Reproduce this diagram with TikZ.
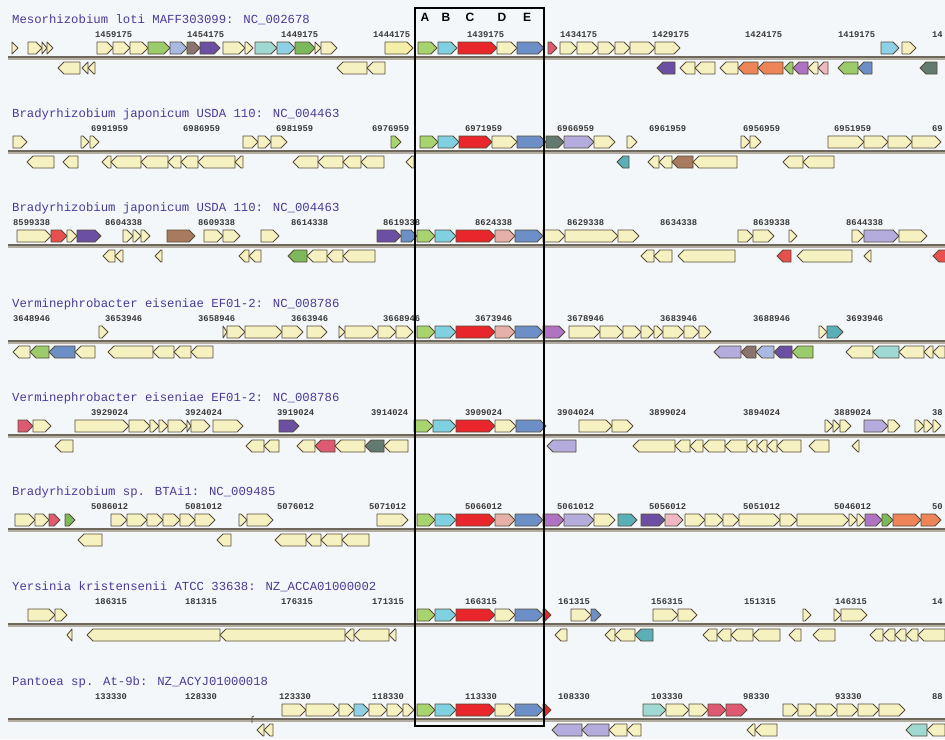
\documentclass[tikz,border=0pt]{standalone}
\usepackage{fontspec}
\newfontfamily\titlef{Liberation Mono}
\newfontfamily\numf{Liberation Mono}
\newfontfamily\letf{Liberation Sans}
\definecolor{bgc}{HTML}{F4F7FA}
\definecolor{geneline}{HTML}{574C38}
\definecolor{axisdark}{HTML}{6E685C}
\definecolor{axislight}{HTML}{B3ADA2}
\definecolor{ttlcol}{HTML}{4A3A98}
\definecolor{numcol}{HTML}{3A3A3A}
\definecolor{cr}{HTML}{F6F1C1}
\definecolor{cry}{HTML}{F3EFA8}
\definecolor{gA}{HTML}{A8D46F}
\definecolor{gB}{HTML}{7FD0E0}
\definecolor{gC}{HTML}{E8262B}
\definecolor{gD}{HTML}{E6B0A8}
\definecolor{gE}{HTML}{6B8FC6}
\definecolor{lav}{HTML}{B3ACDC}
\definecolor{purp}{HTML}{6B4FA3}
\definecolor{brn}{HTML}{A97B5E}
\definecolor{lteal}{HTML}{9FD9D2}
\definecolor{dteal}{HTML}{5BAFB8}
\definecolor{orn}{HTML}{EE8558}
\definecolor{dgray}{HTML}{627A72}
\definecolor{rose}{HTML}{DE5A72}
\definecolor{lilac}{HTML}{B073C3}
\definecolor{peri}{HTML}{A9B9E2}
\definecolor{gbrn}{HTML}{8A7470}
\definecolor{lgrn}{HTML}{9BCB6B}
\definecolor{mgrn}{HTML}{7DB85A}
\definecolor{lblue}{HTML}{90D0E6}
\definecolor{pinkl}{HTML}{F0B8C0}
\definecolor{redm}{HTML}{E85050}
\tikzset{
  gene/.style={draw=geneline, line width=0.9pt, line join=round},
  axisdk/.style={draw=axisdark, line width=1.6pt},
  axislt/.style={draw=axislight, line width=2pt},
  ttl/.style={anchor=west, text=ttlcol, font=\titlef\fontsize{12.3}{13}\selectfont, inner sep=0pt},
  num/.style={anchor=west, text=numcol, font=\numf\bfseries\fontsize{8.8}{9}\selectfont, inner sep=0pt},
  letlab/.style={font=\letf\bfseries\fontsize{12}{12}\selectfont, inner sep=0pt},
  boxframe/.style={draw=black, line width=1.1pt}
}
\newcommand\genF[3]{\pgfmathsetmacro\hl{min(6,#2-#1)}%
  \filldraw[gene,fill=#3] (#1,{\ry-16}) -- ({#2-\hl},{\ry-16}) -- (#2,{\ry-10}) -- ({#2-\hl},{\ry-4}) -- (#1,{\ry-4}) -- cycle;}
\newcommand\genR[3]{\pgfmathsetmacro\hl{min(6,#2-#1)}%
  \filldraw[gene,fill=#3] (#2,{\ry+4}) -- ({#1+\hl},{\ry+4}) -- (#1,{\ry+10}) -- ({#1+\hl},{\ry+16}) -- (#2,{\ry+16}) -- cycle;}
\newcommand\rowaxis{\draw[axislt] (8,{\ry+0.8}) -- (945,{\ry+0.8});\draw[axisdk] (8,{\ry-0.8}) -- (945,{\ry-0.8});}
\begin{document}
\begin{tikzpicture}[x=1pt,y=-1pt]
\fill[bgc] (0,0) rectangle (945,739);
\clip (0,0) rectangle (945,739);
% ---------- Row 1
\def\ry{58}
\rowaxis
\node[ttl] (t1) at (12,{\ry-38}) {Mesorhizobium loti MAFF303099: NC\_002678};
\foreach \x/\t [count=\i] in {95/1459175,187/1454175,281/1449175,373/1444175,467/1439175,560/1434175,652/1429175,745/1424175,838/1419175,932/14}
  \node[num] (r1n\i) at (\x,{\ry-23}) {\t};
\genF{12}{18}{cr}\genF{28}{42}{cr}\genF{42}{47}{cr}\genF{47}{53}{cr}
\genF{97}{113}{cr}\genF{113}{130}{cr}\genF{130}{148}{cr}\genF{148}{170}{lgrn}\genF{170}{187}{peri}\genF{187}{200}{gbrn}\genF{200}{220}{purp}
\genF{223}{245}{cr}\genF{245}{253}{cr}\genF{255}{277}{lteal}\genF{277}{295}{lblue}\genF{295}{315}{mgrn}\genF{315}{321}{cr}\genF{321}{337}{cr}
\genF{385}{413}{cry}\genF{418}{437}{gA}\genF{438}{457}{gB}\genF{458}{497}{gC}\genF{497}{517}{cr}\genF{517}{544}{gE}\genF{548}{557}{rose}
\genF{560}{577}{cr}\genF{577}{598}{cr}\genF{598}{615}{cr}\genF{615}{630}{cr}\genF{630}{655}{cr}\genF{655}{680}{cr}
\genF{881}{899}{lblue}\genF{902}{916}{cr}
\genR{58}{80}{cr}\genR{82}{88}{cr}\genR{88}{95}{cr}
\genR{337}{367}{cr}\genR{367}{385}{cr}
\genR{657}{675}{purp}\genR{680}{695}{cr}\genR{695}{715}{cr}\genR{720}{738}{cr}\genR{738}{758}{orn}\genR{758}{783}{orn}\genR{784}{793}{lgrn}\genR{793}{808}{lilac}\genR{808}{818}{cr}\genR{818}{828}{pinkl}
\genR{838}{858}{lgrn}\genR{858}{872}{gE}\genR{920}{937}{dgray}
% ---------- Row 2
\def\ry{152}
\rowaxis
\node[ttl] (t2) at (12,{\ry-38}) {Bradyrhizobium japonicum USDA 110: NC\_004463};
\foreach \x/\t [count=\i] in {91/6991959,183/6986959,276/6981959,372/6976959,465/6971959,557/6966959,649/6961959,743/6956959,834/6951959,932/69}
  \node[num] (r2n\i) at (\x,{\ry-23}) {\t};
\genF{13}{27}{cr}\genF{81}{89}{cr}\genF{90}{99}{cr}
\genF{243}{258}{cr}\genF{258}{271}{cr}\genF{271}{287}{cr}\genF{391}{401}{gA}
\genF{420}{438}{gA}\genF{438}{459}{gB}\genF{459}{492}{gC}\genF{492}{517}{cr}\genF{517}{546}{gE}\genF{546}{564}{dgray}\genF{564}{594}{lav}\genF{594}{615}{cr}
\genF{627}{637}{cr}\genF{741}{750}{cr}\genF{750}{761}{cr}
\genF{828}{864}{cr}\genF{864}{888}{cr}\genF{888}{912}{cr}\genF{912}{941}{cr}
\genR{27}{54}{cr}\genR{63}{78}{cr}\genR{102}{111}{cr}\genR{111}{141}{cr}\genR{141}{168}{cr}\genR{168}{181}{cr}\genR{181}{198}{cr}\genR{198}{235}{cr}\genR{235}{243}{cr}
\genR{293}{318}{cr}\genR{318}{343}{cr}\genR{343}{361}{cr}\genR{361}{384}{cr}\genR{406}{414}{cr}
\genR{617}{629}{dteal}\genR{648}{659}{cr}\genR{659}{672}{cr}\genR{672}{693}{brn}\genR{693}{737}{cr}
\genR{783}{803}{cr}\genR{803}{834}{cr}
% ---------- Row 3
\def\ry{246}
\rowaxis
\node[ttl] (t3) at (12,{\ry-38}) {Bradyrhizobium japonicum USDA 110: NC\_004463};
\foreach \x/\t [count=\i] in {13/8599338,105/8604338,198/8609338,291/8614338,383/8619338,475/8624338,567/8629338,660/8634338,753/8639338,846/8644338}
  \node[num] (r3n\i) at (\x,{\ry-23}) {\t};
\genF{17}{51}{cr}\genF{51}{67}{redm}\genF{67}{77}{cr}\genF{77}{101}{purp}
\genF{123}{133}{cr}\genF{133}{141}{cr}\genF{141}{150}{cr}\genF{167}{195}{brn}\genF{204}{223}{cr}\genF{223}{240}{cr}\genF{261}{279}{cr}
\genF{377}{401}{purp}\genF{401}{417}{gE}\genF{417}{435}{gA}\genF{435}{456}{gB}\genF{456}{495}{gC}\genF{495}{515}{gD}\genF{515}{543}{gE}
\genF{543}{565}{cr}\genF{565}{618}{cr}\genF{618}{639}{cr}
\genF{738}{753}{cr}\genF{753}{774}{cr}\genF{789}{797}{cr}\genF{852}{864}{cr}\genF{864}{899}{lav}\genF{899}{927}{cr}
\genR{103}{115}{cr}\genR{115}{123}{cr}\genR{155}{162}{cr}\genR{239}{249}{cr}\genR{249}{261}{cr}
\genR{288}{307}{mgrn}\genR{307}{327}{cr}\genR{327}{343}{cr}\genR{343}{375}{cr}
\genR{641}{654}{cr}\genR{654}{672}{cr}\genR{678}{735}{cr}\genR{777}{791}{redm}\genR{797}{852}{cr}\genR{864}{871}{cr}\genR{933}{950}{redm}
% ---------- Row 4
\def\ry{342}
\rowaxis
\node[ttl] (t4) at (12,{\ry-38}) {Verminephrobacter eiseniae EF01-2: NC\_008786};
\foreach \x/\t [count=\i] in {13/3648946,105/3653946,198/3658946,291/3663946,383/3668946,475/3673946,567/3678946,660/3683946,753/3688946,846/3693946}
  \node[num] (r4n\i) at (\x,{\ry-23}) {\t};
\genF{99}{108}{cr}
\genF{223}{227}{cr}\genF{227}{245}{cr}\genF{245}{282}{cr}\genF{282}{303}{cr}\genF{307}{327}{cr}
\genF{339}{345}{cr}\genF{345}{378}{cr}\genF{378}{396}{cr}\genF{396}{413}{cr}
\genF{417}{435}{gA}\genF{435}{456}{gB}\genF{456}{495}{gC}\genF{495}{515}{gD}\genF{515}{543}{gE}\genF{543}{565}{lilac}
\genF{569}{600}{cr}\genF{600}{623}{cr}\genF{623}{641}{cr}\genF{641}{654}{cr}\genF{654}{663}{cr}\genF{663}{684}{cr}\genF{684}{699}{cr}\genF{699}{711}{cr}
\genF{819}{827}{cr}\genF{827}{843}{dteal}
\genR{13}{30}{cr}\genR{30}{49}{lgrn}\genR{49}{75}{gE}\genR{75}{95}{cr}
\genR{108}{153}{cr}\genR{153}{174}{cr}\genR{174}{191}{cr}\genR{191}{213}{cr}
\genR{714}{741}{lav}\genR{741}{756}{gbrn}\genR{756}{774}{peri}\genR{774}{792}{purp}\genR{792}{813}{lgrn}
\genR{846}{873}{cr}\genR{873}{899}{lteal}\genR{899}{924}{cr}\genR{924}{933}{cr}\genR{933}{945}{cr}
% ---------- Row 5
\def\ry{436}
\rowaxis
\node[ttl] (t5) at (12,{\ry-38}) {Verminephrobacter eiseniae EF01-2: NC\_008786};
\foreach \x/\t [count=\i] in {91/3929024,185/3924024,277/3919024,371/3914024,465/3909024,557/3904024,649/3899024,743/3894024,834/3889024,932/38}
  \node[num] (r5n\i) at (\x,{\ry-23}) {\t};
\genF{18}{33}{rose}\genF{33}{51}{cr}
\genF{75}{129}{cr}\genF{129}{150}{cr}\genF{150}{159}{cr}\genF{159}{168}{cr}\genF{168}{187}{cr}\genF{187}{191}{cr}\genF{191}{210}{cr}\genF{213}{243}{cr}
\genF{279}{299}{purp}
\genF{414}{433}{gA}\genF{433}{456}{gB}\genF{456}{495}{gC}\genF{495}{516}{cr}\genF{516}{546}{gE}
\genF{579}{612}{cr}\genF{612}{633}{cr}
\genF{825}{833}{cr}\genF{833}{840}{cr}\genF{840}{851}{cr}\genF{864}{888}{lav}\genF{888}{900}{cr}
\genF{915}{924}{cr}\genF{924}{933}{cr}\genF{933}{941}{cr}
\genR{55}{73}{cr}
\genR{246}{264}{cr}\genR{264}{279}{cr}\genR{297}{315}{cr}\genR{315}{335}{rose}\genR{335}{365}{cr}\genR{365}{384}{dgray}\genR{384}{408}{cr}
\genR{547}{576}{lav}
\genR{633}{675}{cr}\genR{675}{690}{cr}\genR{690}{703}{cr}\genR{703}{725}{cr}\genR{725}{747}{cr}\genR{747}{757}{cr}\genR{757}{767}{cr}\genR{767}{777}{cr}\genR{777}{801}{cr}
\genR{809}{829}{cr}\genR{852}{859}{cr}
% ---------- Row 6
\def\ry{530}
\rowaxis
\node[ttl] (t6) at (12,{\ry-38}) {Bradyrhizobium sp. BTAi1: NC\_009485};
\foreach \x/\t [count=\i] in {91/5086012,185/5081012,277/5076012,369/5071012,465/5066012,557/5061012,649/5056012,743/5051012,834/5046012,932/50}
  \node[num] (r6n\i) at (\x,{\ry-23}) {\t};
\genF{15}{35}{cr}\genF{35}{49}{cr}\genF{49}{60}{rose}\genF{65}{75}{mgrn}
\genF{111}{127}{cr}\genF{127}{147}{cr}\genF{147}{163}{cr}\genF{163}{180}{cr}\genF{180}{195}{cr}\genF{195}{215}{cr}
\genF{239}{247}{cr}\genF{247}{273}{cr}\genF{377}{408}{cr}
\genF{417}{435}{gA}\genF{435}{456}{gB}\genF{456}{495}{gC}\genF{495}{515}{gD}\genF{515}{543}{gE}
\genF{543}{564}{lilac}\genF{564}{594}{lav}\genF{594}{615}{cr}\genF{618}{637}{dteal}\genF{641}{665}{purp}\genF{665}{683}{pinkl}
\genF{685}{705}{cr}\genF{705}{723}{cr}\genF{723}{739}{cr}\genF{739}{780}{cr}\genF{780}{797}{cr}\genF{797}{849}{cr}\genF{849}{857}{cr}\genF{857}{865}{cr}
\genF{865}{882}{lilac}\genF{882}{893}{mgrn}\genF{893}{921}{orn}\genF{921}{941}{orn}
\genR{78}{102}{cr}\genR{217}{231}{cr}
\genR{275}{306}{cr}\genR{306}{321}{cr}\genR{321}{342}{cr}\genR{342}{369}{cr}
% ---------- Row 7
\def\ry{625}
\rowaxis
\node[ttl] (t7) at (12,{\ry-38}) {Yersinia kristensenii ATCC 33638: NZ\_ACCA01000002};
\foreach \x/\t [count=\i] in {95/186315,185/181315,281/176315,372/171315,465/166315,558/161315,651/156315,744/151315,835/146315,932/14}
  \node[num] (r7n\i) at (\x,{\ry-23}) {\t};
\genF{28}{55}{cr}\genF{55}{67}{cr}
\genF{417}{435}{gA}\genF{435}{456}{gB}\genF{456}{495}{gC}\genF{495}{515}{cr}\genF{515}{543}{gE}\genF{543}{551}{gC}
\genF{571}{591}{cr}\genF{591}{601}{gE}\genF{653}{678}{cr}\genF{678}{697}{cr}
\genF{803}{811}{cr}\genF{834}{841}{cr}\genF{841}{867}{cr}
\genR{67}{72}{cr}\genR{87}{220}{cr}\genR{220}{345}{cr}\genR{345}{354}{cr}\genR{354}{389}{cr}\genR{389}{396}{cr}
\genR{555}{567}{cr}\genR{605}{615}{cr}\genR{615}{635}{cr}\genR{635}{653}{dteal}
\genR{703}{717}{cr}\genR{717}{731}{cr}\genR{731}{753}{cr}\genR{753}{780}{cr}\genR{789}{801}{cr}\genR{813}{835}{cr}
\genR{870}{883}{cr}\genR{883}{895}{cr}\genR{895}{906}{cr}\genR{906}{918}{cr}\genR{918}{945}{cr}
% ---------- Row 8
\def\ry{720}
\rowaxis
\node[ttl] (t8) at (12,{\ry-38}) {Pantoea sp. At-9b: NZ\_ACYJ01000018};
\foreach \x/\t [count=\i] in {95/133330,185/128330,279/123330,372/118330,465/113330,558/108330,651/103330,743/98330,835/93330,932/88}
  \node[num] (r8n\i) at (\x,{\ry-23}) {\t};
\genF{282}{306}{cr}\genF{306}{339}{cr}\genF{339}{354}{cr}\genF{354}{369}{lblue}\genF{369}{387}{cr}\genF{387}{403}{cr}\genF{403}{414}{cr}
\genF{417}{435}{gA}\genF{435}{456}{gB}\genF{456}{495}{gC}\genF{495}{515}{cr}\genF{515}{543}{gE}\genF{543}{551}{gC}
\genF{643}{666}{lteal}\genF{666}{689}{cr}\genF{689}{708}{cr}\genF{708}{726}{rose}\genF{726}{747}{rose}
\genF{783}{798}{cr}\genF{798}{816}{cr}\genF{816}{837}{cr}\genF{837}{858}{cr}\genF{858}{879}{cr}\genF{879}{905}{cr}
\draw[geneline, line width=0.7pt] (254,{\ry-4}) -- (252,{\ry-3}) -- (252,{\ry+3});
\genR{257}{264}{cr}\genR{264}{273}{cr}
\genR{552}{582}{lav}\genR{582}{609}{lav}\genR{609}{627}{cr}\genR{627}{641}{cr}
\genR{747}{755}{cr}\genR{755}{777}{cr}\genR{906}{927}{lteal}\genR{927}{945}{cr}
% ---------- frame and letters
\draw[boxframe] (415,8) rectangle (544,726);
\node[letlab] (la) at (425,17) {A};
\node[letlab] (lb) at (446,17) {B};
\node[letlab] (lc) at (470,17) {C};
\node[letlab] (ld) at (502,17) {D};
\node[letlab] (le) at (527,17) {E};
\end{tikzpicture}
\end{document}
